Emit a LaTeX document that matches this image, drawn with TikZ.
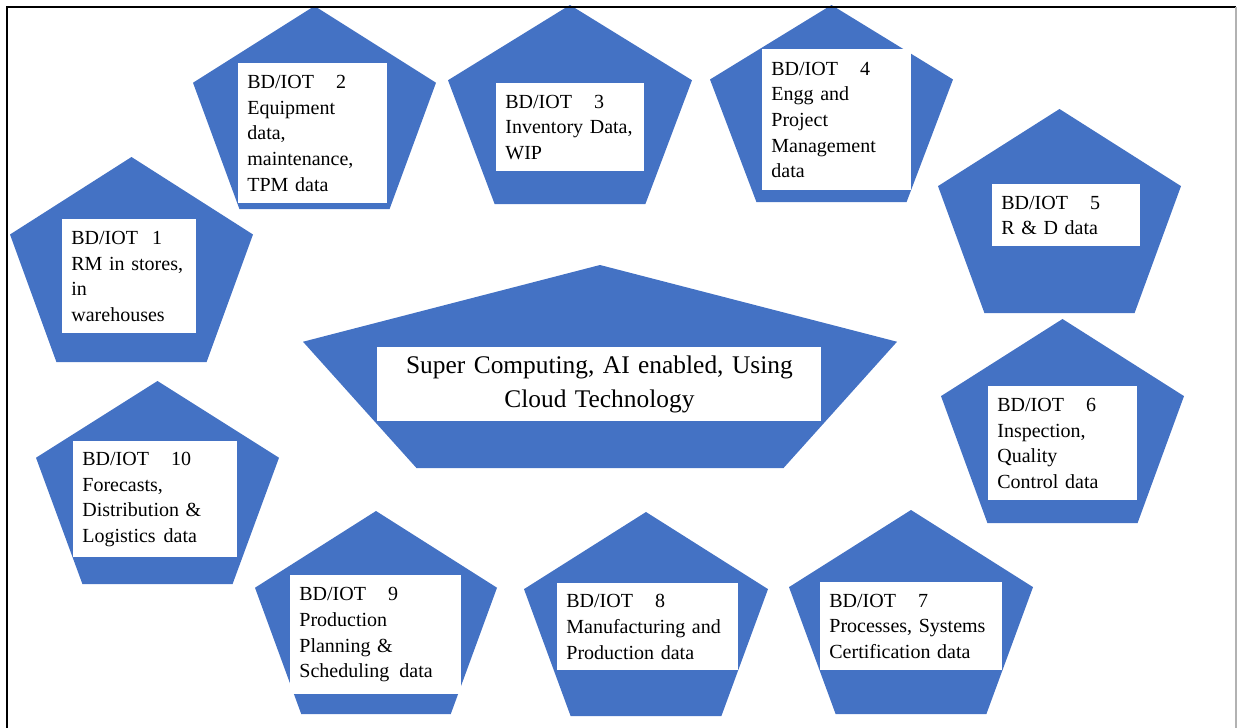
\documentclass[tikz,border=0pt]{standalone}
\usepackage{fontspec}
\setmainfont{Liberation Serif}
\usetikzlibrary{positioning}

\begin{document}
\begin{tikzpicture}[%
x=0.5pt, y=-0.5pt,
pentagon/.style={fill=officeblue},
infobox/.style={fill=white,anchor=north west,align=left,inner xsep=4.5pt,inner ysep=2pt,
  font=\fontsize{10}{12.85}\selectfont},
centrebox/.style={fill=white,anchor=north west,align=center,inner xsep=4.5pt,inner ysep=2pt,
  font=\fontsize{12.7}{17}\selectfont},
frame/.style={line width=1.2pt}]
\definecolor{officeblue}{HTML}{4472C4}
\useasboundingbox (0,0) rectangle (1238,728);
\foreach \px/\py/\pb/\pw in {131.5/157/362/243, 314.5/6/209/243, 570/5/204/244,
  831.5/5/202/243, 1059.5/109/313/243, 1062.5/319/523/243, 911/510/714/244,
  646/512/716/244, 376/511/714/242, 157.5/381/584/243, 600/265/468/594}
  \fill [pentagon] (\px,\py) -- ({\px+\pw/2},{\py+0.378*(\pb-\py)})
    -- ({\px+0.309*\pw},\pb) -- ({\px-0.309*\pw},\pb)
    -- ({\px-\pw/2},{\py+0.378*(\pb-\py)}) -- cycle;
\node [infobox, text width=58pt,   minimum height=57pt]   (iot1)  at (62,219)
  {BD/IOT\hspace{0.7em}1\\RM in stores,\\in\\warehouses};
\node [infobox, text width=65.5pt, minimum height=70pt]   (iot2)  at (238,63)
  {BD/IOT\hspace{1.1em}2\\Equipment\\data,\\maintenance,\\TPM data};
\node [infobox, text width=65pt,   minimum height=44pt]   (iot3)  at (496,83)
  {BD/IOT\hspace{1.1em}3\\Inventory Data,\\WIP};
\node [infobox, text width=65.5pt, minimum height=70.5pt] (iot4)  at (762,49)
  {BD/IOT\hspace{1.1em}4\\Engg and\\Project\\Management\\data};
\node [infobox, text width=65pt,   minimum height=31pt]   (iot5)  at (992,184)
  {BD/IOT\hspace{1.1em}5\\R \& D data};
\node [infobox, text width=65.5pt, minimum height=57pt]   (iot6)  at (988,386)
  {BD/IOT\hspace{1.1em}6\\Inspection,\\Quality\\Control data};
\node [infobox, text width=82pt,   minimum height=44pt]   (iot7)  at (820,582)
  {BD/IOT\hspace{1.1em}7\\Processes, Systems\\Certification data};
\node [infobox, text width=81.5pt, minimum height=43.5pt] (iot8)  at (557,583)
  {BD/IOT\hspace{1.1em}8\\Manufacturing and\\Production data};
\node [infobox, text width=76.5pt, minimum height=59.5pt] (iot9)  at (290,575)
  {BD/IOT\hspace{1.1em}9\\Production\\Planning \&\\Scheduling\hspace{0.5em}data};
\node [infobox, text width=73pt,   minimum height=58pt]   (iot10) at (73,441)
  {BD/IOT\hspace{1.1em}10\\Forecasts,\\Distribution \&\\Logistics\hspace{0.4em}data};
\node [centrebox, text width=213pt, minimum height=37pt]  (cloud) at (377,347)
  {Super Computing, AI enabled, Using\\Cloud Technology};
\draw [frame] (7,728) -- (7,7) -- (1236,7);
\draw [gray!60, line width=0.6pt] (1236,7) -- (1236,728);
\end{tikzpicture}
\end{document}
